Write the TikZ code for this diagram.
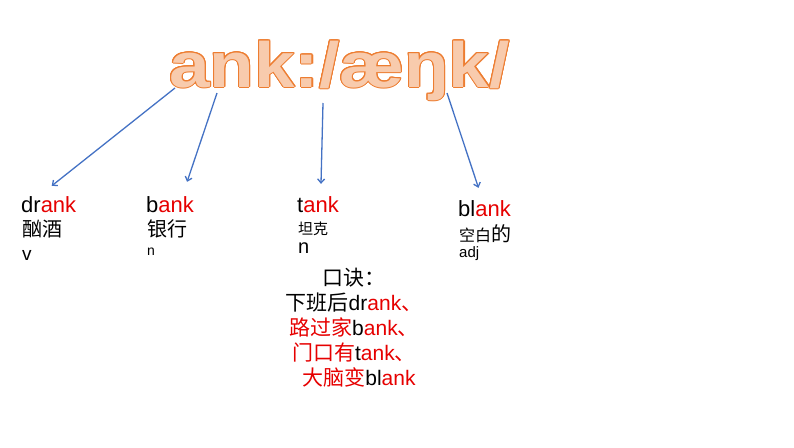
\documentclass[tikz,border=0pt]{standalone}
\usepackage{fontspec}
\setmainfont{Liberation Sans}
\newfontfamily\cjk{Noto Sans CJK SC}
\newfontfamily\titlefont{Liberation Sans Bold}
\usepackage{tikz}
\usepackage[copies]{contour}
\contourlength{1pt}
\definecolor{ankred}{RGB}{230, 0, 0}
\definecolor{ankfill}{RGB}{248, 203, 173}
\definecolor{ankline}{RGB}{237, 125, 49}
\definecolor{linkblue}{RGB}{68, 114, 196}
\usetikzlibrary{arrows.meta, positioning}
\newcommand{\rk}[1]{\textcolor{ankred}{#1}}
\newcommand{\zh}[1]{{\cjk #1}}

\begin{document}
\begin{tikzpicture}[
    x=1pt, y=-1pt,
    word/.style={anchor=base west, inner sep=0pt, font=\fontsize{22}{22}\selectfont},
    gloss/.style={anchor=base west, inner sep=0pt, font=\fontsize{#1}{#1}\selectfont\cjk},
    wclass/.style={anchor=base west, inner sep=0pt, font=\fontsize{#1}{#1}\selectfont},
    rhyme/.style={anchor=north, align=center, inner sep=0pt, font=\fontsize{21}{25}\selectfont},
    link/.style={draw=linkblue, line width=1.3pt, -{Straight Barb[length=4pt,width=7pt]}}
]
    \useasboundingbox (0,0) rectangle (794,447);

    % Title
    \node[anchor=base west, inner sep=0pt, text=ankfill,
          font=\fontsize{64}{64}\selectfont\titlefont] (title) at (169,87)
          {\scalebox{1.14}[1]{\contour{ankline}{ank:/æŋk/}}};

    % Words
    \node[word] (drank) at (21,212) {dr\rk{ank}};
    \node[gloss=20] (drankzh) at (22,236) {酗酒};
    \node[wclass=19] (drankwc) at (22,260) {v};

    \node[word] (bank) at (146,212) {b\rk{ank}};
    \node[gloss=20] (bankzh) at (147,236) {银行};
    \node[wclass=14] (bankwc) at (147,255) {n};

    \node[word] (tank) at (297,212) {t\rk{ank}};
    \node[gloss=15] (tankzh) at (298,234) {坦克};
    \node[wclass=20] (tankwc) at (298,253) {n};

    \node[word] (blank) at (458,216) {bl\rk{ank}};
    \node[gloss=16] (blankzh) at (459,241) {空白{\fontsize{20}{20}\selectfont 的}};
    \node[wclass=15] (blankwc) at (459,257) {adj};

    % Mnemonic
    \node[rhyme] (rhyme) at (354,268) {\zh{口诀：}\\
        \zh{下班后}dr\rk{ank\zh{、}}\\
        \rk{\zh{路过家}}b\rk{ank\zh{、}}\\
        \rk{\zh{门口有}}t\rk{ank\zh{、}}\\
        \hspace{10pt}\rk{\zh{大脑变}}bl\rk{ank}};

    % Arrows
    \coordinate (s1) at (175,88);
    \coordinate (s2) at (217,93);
    \coordinate (s3) at (323,103);
    \coordinate (s4) at (447,93);
    \draw[link] (s1) -- ([xshift=3pt,yshift=10pt]drank.north);
    \draw[link] (s2) -- ([xshift=17pt,yshift=14pt]bank.north);
    \draw[link] (s3) -- ([xshift=3pt,yshift=12pt]tank.north);
    \draw[link] (s4) -- ([xshift=-6pt,yshift=12pt]blank.north);
\end{tikzpicture}
\end{document}
